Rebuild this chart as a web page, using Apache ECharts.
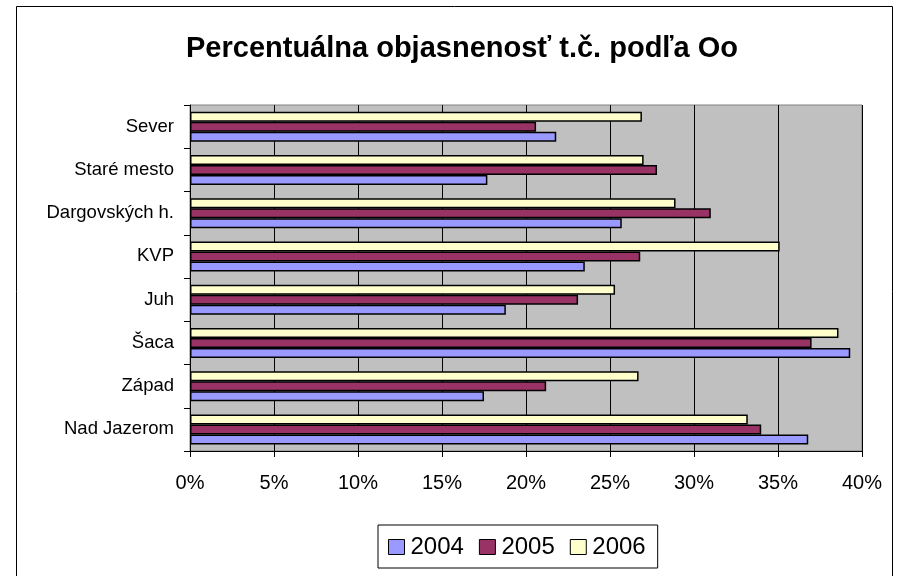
<!DOCTYPE html>
<html>
<head>
<meta charset="utf-8">
<script src="https://cdn.jsdelivr.net/npm/echarts@6/dist/echarts.min.js"></script>
<style>
  html, body { margin: 0; padding: 0; background: #fff; }
  #chart { width: 902px; height: 576px; }
</style>
</head>
<body>
<div id="chart"></div>
<script>
// Districts (top to bottom)
const categories = ['Sever', 'Staré mesto', 'Dargovských h.', 'KVP', 'Juh', 'Šaca', 'Západ', 'Nad Jazerom'];
// Clearance rate in percent per year
const years = ['2004', '2005', '2006'];
const values2004 = [21.8, 17.7, 25.7, 23.5, 18.8, 39.3, 17.5, 36.8];
const values2005 = [20.6, 27.8, 31.0, 26.8, 23.1, 37.0, 21.2, 34.0];
const values2006 = [26.9, 27.0, 28.9, 35.1, 25.3, 38.6, 26.7, 33.2];
const xTicks = { min: 0, max: 40, step: 5 };

const colors = { '2004': '#9999FF', '2005': '#993366', '2006': '#FFFFCC' };
const FONT = '"Liberation Sans", Arial, sans-serif';

const chart = echarts.init(document.getElementById('chart'), null, { renderer: 'canvas' });

function barSeries(name, data) {
  return {
    name: name,
    type: 'bar',
    data: data,
    barWidth: 10,
    barGap: '0%',
    itemStyle: { color: colors[name], borderColor: '#000', borderWidth: 1.5 },
    emphasis: { disabled: true },
    animation: false
  };
}

chart.setOption({
  animation: false,
  textStyle: { fontFamily: FONT },
  graphic: [{
    type: 'rect',
    shape: { x: 16.5, y: 6.5, width: 876, height: 600 },
    style: { fill: 'none', stroke: '#000', lineWidth: 1 },
    silent: true,
    z: 0
  }],
  title: {
    text: 'Percentuálna objasnenosť t.č. podľa Oo',
    left: 457,
    top: 29,
    textAlign: 'center',
    textStyle: { fontFamily: FONT, fontSize: 29, fontWeight: 'bold', color: '#000' }
  },
  legend: {
    data: years,
    left: 378,
    top: 525,
    padding: [10, 12, 9, 10],
    itemGap: 15,
    itemWidth: 16,
    itemHeight: 15,
    icon: 'rect',
    borderColor: '#000',
    borderWidth: 1,
    backgroundColor: '#fff',
    itemStyle: { borderColor: '#000', borderWidth: 1 },
    textStyle: { fontFamily: FONT, fontSize: 24, color: '#000', padding: [0, 0, 0, 1] },
    selectedMode: false
  },
  grid: {
    left: 190,
    right: 40,
    top: 105,
    bottom: 125,
    show: true,
    backgroundColor: '#C0C0C0',
    borderColor: '#808080',
    borderWidth: 1,
    containLabel: false
  },
  xAxis: {
    type: 'value',
    min: xTicks.min,
    max: xTicks.max,
    interval: xTicks.step,
    axisLine: { show: true, lineStyle: { color: '#000', width: 1 } },
    axisTick: { show: true, length: 6, lineStyle: { color: '#000' } },
    axisLabel: { formatter: '{value}%', fontSize: 20, color: '#000', margin: 22, fontFamily: FONT },
    splitLine: { show: true, lineStyle: { color: '#000', width: 1 } }
  },
  yAxis: {
    type: 'category',
    data: categories,
    inverse: true,
    axisLine: { show: true, lineStyle: { color: '#000', width: 1 } },
    axisTick: { show: true, length: 6, lineStyle: { color: '#000' } },
    axisLabel: { fontSize: 18.5, color: '#000', margin: 16, fontFamily: FONT },
    splitLine: { show: false }
  },
  // 2006 drawn first so it sits at the top of each group
  series: [
    barSeries('2006', values2006),
    barSeries('2005', values2005),
    barSeries('2004', values2004)
  ]
});
</script>
</body>
</html>
